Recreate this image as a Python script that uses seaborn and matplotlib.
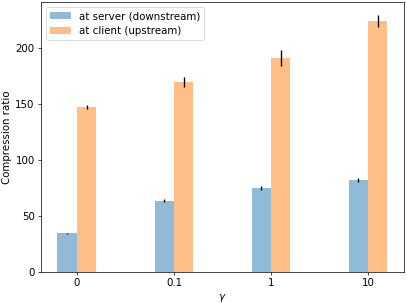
import numpy as np
import pandas as pd
import seaborn as sns
import matplotlib
matplotlib.use("Agg")
import matplotlib.pyplot as plt

# valeurs
gammas = ["0", "0.1", "1", "10"]
server = [34.8, 63.7, 75.0, 82.1]
server_err = [0.5, 1.5, 2.0, 1.8]
client = [147.6, 169.9, 191.3, 224.6]
client_err = [1.4, 4.8, 7.4, 5.4]
labels = ["at server (downstream)", "at client (upstream)"]

df = pd.DataFrame({
    "gamma": gammas * 2,
    "ratio": server + client,
    "where": [labels[0]] * len(gammas) + [labels[1]] * len(gammas),
})

plt.rcParams["font.size"] = 11.5

fig, ax = plt.subplots(figsize=(407 / 64, 303 / 64), dpi=64)
fig.subplots_adjust(left=0.1007, right=0.9926, bottom=0.1023, top=0.9934)

sns.barplot(data=df, x="gamma", y="ratio", hue="where", order=gammas,
            palette=["#8fbbd9", "#ffbf86"], saturation=1, width=0.4,
            errorbar=None, linewidth=0, ax=ax)

# barres d'erreur
pos = np.arange(len(gammas))
ax.errorbar(pos - 0.1, server, yerr=server_err, fmt="none", ecolor="black", elinewidth=1.5)
ax.errorbar(pos + 0.1, client, yerr=client_err, fmt="none", ecolor="black", elinewidth=1.5)

ax.set_xlim(-0.37, 3.37)
ax.set_xlabel(r"$\gamma$")
ax.set_ylabel("Compression ratio")
sns.move_legend(ax, "upper left", title=None)

plt.savefig("out.png", dpi=64)
